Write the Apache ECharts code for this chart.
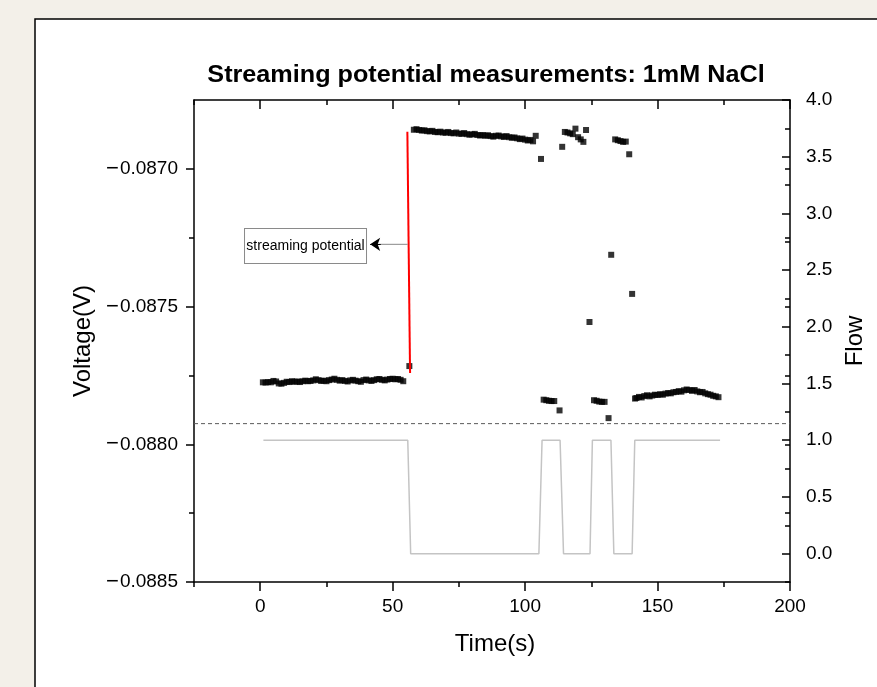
<!DOCTYPE html>
<html><head><meta charset="utf-8">
<script src="https://cdn.jsdelivr.net/npm/echarts@6/dist/echarts.min.js"></script>
<style>html,body{margin:0;padding:0;background:#f3f0e9;}#c{width:877px;height:687px;}</style>
</head><body><div id="c"></div>
<script>
const titleText = 'Streaming potential measurements: 1mM NaCl';
const xName = 'Time(s)';
const yLeftName = 'Voltage(V)';
const yRightName = 'Flow';
const annotationText = 'streaming potential';

const xMajorTicks = [0, 50, 100, 150, 200];
const xMinorTicks = [-25, 25, 75, 125, 175];
const vMajorTicks = [-0.0885, -0.0880, -0.0875, -0.0870];
const vMinorTicks = [-0.08825, -0.08775, -0.08725];
const flowMajorTicks = [0, 0.5, 1, 1.5, 2, 2.5, 3, 3.5, 4];
const flowMinorTicks = [0.25, 0.75, 1.25, 1.75, 2.25, 2.75, 3.25, 3.75];

// voltage (V) vs time (s), flow on
const voltageSeg1 = [[1,-0.087775],[2,-0.087776],[3,-0.087774],[4,-0.087775],[5,-0.087770],[6,-0.087772],[7,-0.087779],[8,-0.087780],[9,-0.087777],[10,-0.087773],
[11,-0.087774],[12,-0.087771],[13,-0.087773],[14,-0.087772],[15,-0.087774],[16,-0.087771],[17,-0.087769],[18,-0.087771],[19,-0.087770],[20,-0.087768],
[21,-0.087764],[22,-0.087767],[23,-0.087770],[24,-0.087769],[25,-0.087771],[26,-0.087767],[27,-0.087765],[28,-0.087762],[29,-0.087766],[30,-0.087769],
[31,-0.087767],[32,-0.087770],[33,-0.087772],[34,-0.087768],[35,-0.087766],[36,-0.087769],[37,-0.087771],[38,-0.087773],[39,-0.087767],[40,-0.087765],
[41,-0.087768],[42,-0.087770],[43,-0.087767],[44,-0.087764],[45,-0.087763],[46,-0.087766],[47,-0.087768],[48,-0.087765],[49,-0.087763],[50,-0.087762],
[51,-0.087764],[52,-0.087763],[53,-0.087766],[54,-0.087771],[56.3,-0.087716]];
// flow stopped
const voltageSeg2 = [[58,-0.086858],[59,-0.086856],[60,-0.086859],[61,-0.086861],[62,-0.086860],[63,-0.086863],[64,-0.086864],[65,-0.086862],[66,-0.086866],[67,-0.086867],
[68,-0.086865],[69,-0.086868],[70,-0.086869],[71,-0.086866],[72,-0.086870],[73,-0.086871],[74,-0.086868],[75,-0.086872],[76,-0.086873],[77,-0.086870],
[78,-0.086874],[79,-0.086876],[80,-0.086875],[81,-0.086873],[82,-0.086877],[83,-0.086879],[84,-0.086877],[85,-0.086880],[86,-0.086878],[87,-0.086881],
[88,-0.086883],[89,-0.086880],[90,-0.086879],[91,-0.086882],[92,-0.086884],[93,-0.086881],[94,-0.086885],[95,-0.086887],[96,-0.086886],[97,-0.086889],
[98,-0.086892],[99,-0.086890],[100,-0.086894],[101,-0.086897],[102,-0.086895],[103,-0.086900],[104,-0.086880]];
// switching period
const voltageSeg3 = [[106,-0.086964],[107,-0.087838],[108,-0.087840],[109,-0.087842],[110,-0.087843],[111,-0.087843],[113,-0.087877],
[114,-0.086920],[115,-0.086866],[116,-0.086868],[117,-0.086871],[118,-0.086874],[119,-0.086854],[120,-0.086885],[121,-0.086893],[122,-0.086902],[123,-0.086859],
[124.3,-0.087556],[126,-0.087840],[127,-0.087842],[128,-0.087845],[129,-0.087846],[130,-0.087846],[131.5,-0.087905],[132.5,-0.087312],
[134,-0.086893],[135,-0.086896],[136,-0.086899],[137,-0.086902],[138,-0.086901],[139.3,-0.086947],[140.4,-0.087454]];
// flow on again
const voltageSeg4 = [[141.5,-0.087834],[142,-0.087832],[143,-0.087828],[144,-0.087830],[145,-0.087825],[146,-0.087822],[147,-0.087826],[148,-0.087823],[149,-0.087820],[150,-0.087821],
[151,-0.087818],[152,-0.087820],[153,-0.087816],[154,-0.087814],[155,-0.087815],[156,-0.087811],[157,-0.087810],[158,-0.087807],[159,-0.087809],[160,-0.087804],
[161,-0.087801],[162,-0.087803],[163,-0.087806],[164,-0.087803],[165,-0.087808],[166,-0.087811],[167,-0.087810],[168,-0.087815],[169,-0.087818],[170,-0.087820],
[171,-0.087824],[172,-0.087826],[173,-0.087829]];

const flowPoints = [[1.2,1],[55.7,1],[56.8,0],[105.2,0],[106.4,1],[113.2,1],[114.5,0],[124.5,0],[125.4,1],[132.4,1],[133.5,0],[140.4,0],[141.4,1],[173.6,1]];
const streamLine = [[55.55,-0.086865],[56.57,-0.087741]];
const dashedLine = [[-25,-0.087925],[200,-0.087925]];
const arrowLine = [[55.7,-0.087274],[43.5,-0.087274]];
const arrowHead = [[45.5,-0.087274],[41.5,-0.087274]];
const boxCenter = [17.1, -0.087280];

const FONT = "'Liberation Sans', Arial, sans-serif";
const X_MIN = -25, X_MAX = 200, V_MIN = -0.0885, V_MAX = -0.08675, F_MIN = -0.25, F_MAX = 4;

const chart = echarts.init(document.getElementById('c'), null, {renderer: 'canvas'});

function xAx(pos, ticks, len, inside, showLine, labels) {
  return {
    type: 'value', position: pos, min: X_MIN, max: X_MAX,
    axisLine: {show: showLine, onZero: false, lineStyle: {color: '#000', width: 1.5}},
    axisTick: {show: true, inside: inside, length: len, customValues: ticks, lineStyle: {color: '#000', width: 1.5}},
    axisLabel: labels ? {show: true, customValues: ticks, fontSize: 19, color: '#000', fontFamily: FONT, margin: 15} : {show: false},
    splitLine: {show: false}
  };
}
function yAx(pos, min, max, ticks, len, inside, showLine, labelFmt, margin, rich) {
  const lab = labelFmt ? {show: true, customValues: ticks, formatter: labelFmt, fontSize: 19, color: '#000', fontFamily: FONT, margin: margin} : {show: false};
  if (rich) lab.rich = rich;
  return {
    type: 'value', position: pos, min: min, max: max,
    axisLine: {show: showLine, onZero: false, lineStyle: {color: '#000', width: 1.5}},
    axisTick: {show: true, inside: inside, length: len, customValues: ticks, lineStyle: {color: '#000', width: 1.5}},
    axisLabel: lab,
    splitLine: {show: false}
  };
}

const xBottom = xAx('bottom', xMajorTicks, 9, false, true, true);
xBottom.name = xName; xBottom.nameLocation = 'middle'; xBottom.nameGap = 50;
xBottom.nameTextStyle = {fontSize: 24, color: '#000', fontFamily: FONT, padding: [0, 0, 0, 6]};

const yLeft = yAx('left', V_MIN, V_MAX, vMajorTicks, 8, false, true,
  v => '{m|\u2212}' + Math.abs(v).toFixed(4), 16,
  {m: {fontSize: 22, fontFamily: FONT, color: '#000', padding: [0, 1, 0, 0]}});
yLeft.name = yLeftName; yLeft.nameLocation = 'middle'; yLeft.nameGap = 94; yLeft.nameRotate = 90;
yLeft.nameTextStyle = {fontSize: 24, color: '#000', fontFamily: FONT};

const yRight = yAx('right', F_MIN, F_MAX, flowMajorTicks, 8, true, true, v => v.toFixed(1), 16);
yRight.name = yRightName; yRight.nameLocation = 'middle'; yRight.nameGap = 52; yRight.nameRotate = 90;
yRight.nameTextStyle = {fontSize: 24, color: '#000', fontFamily: FONT};

const option = {
  backgroundColor: '#f3f0e9',
  animation: false,
  graphic: [
    {type: 'rect', z: -100, shape: {x: 35, y: 19, width: 900, height: 700}, style: {fill: '#ffffff', stroke: '#000', lineWidth: 1.5}},
    {type: 'text', z: 100, x: 486, y: 75, scaleX: 1.05, style: {x: 0, y: 0, text: titleText, textAlign: 'center', textVerticalAlign: 'middle', font: 'bold 24px ' + FONT, fill: '#000'}}
  ],
  grid: {left: 194, right: 87, top: 100, bottom: 105, containLabel: false},
  xAxis: [
    xBottom,
    xAx('bottom', xMinorTicks, 5, false, false, false),
    xAx('top', xMajorTicks, 9, true, true, false),
    xAx('top', xMinorTicks, 5, true, false, false)
  ],
  yAxis: [
    yLeft,
    yAx('left', V_MIN, V_MAX, vMinorTicks, 5, false, false, null),
    yRight,
    yAx('right', F_MIN, F_MAX, flowMinorTicks, 5, true, false, null),
    yAx('right', V_MIN, V_MAX, vMajorTicks.concat(vMinorTicks), 5, true, false, null)
  ],
  series: [
    {
      type: 'line', name: 'dashed', xAxisIndex: 0, yAxisIndex: 0, data: dashedLine,
      showSymbol: false, symbol: 'none', lineStyle: {color: '#5a5a5a', width: 1, type: [4, 3]}, z: 1, silent: true
    },
    {
      type: 'line', name: 'Flow', xAxisIndex: 0, yAxisIndex: 2, data: flowPoints,
      showSymbol: false, symbol: 'none', lineStyle: {color: '#c4c4c4', width: 1.5}, z: 1, silent: true
    },
    {
      type: 'scatter', name: 'Voltage', xAxisIndex: 0, yAxisIndex: 0,
      data: voltageSeg1.concat(voltageSeg2, voltageSeg3, voltageSeg4),
      symbol: 'rect', symbolSize: 6, itemStyle: {color: '#000'}, z: 3,
      markPoint: {
        silent: true, animation: false,
        data: [{
          coord: boxCenter, symbol: 'circle', symbolSize: 0,
          label: {show: true, position: 'inside', formatter: annotationText, color: '#000', fontSize: 14, fontFamily: FONT,
            backgroundColor: '#fff', borderColor: '#8a8a8a', borderWidth: 1, padding: [10, 1, 10, 1], width: 119, align: 'center'}
        }]
      }
    },
    {
      type: 'line', name: 'stream', xAxisIndex: 0, yAxisIndex: 0, data: streamLine,
      showSymbol: false, symbol: 'none', lineStyle: {color: '#ff0000', width: 2}, z: 4, silent: true
    },
    {
      type: 'line', name: 'arrow', xAxisIndex: 0, yAxisIndex: 0, data: arrowLine,
      showSymbol: false, symbol: 'none', lineStyle: {color: '#888', width: 1}, z: 4, silent: true,
      markLine: {
        silent: true, animation: false, symbol: ['none', 'arrow'], symbolSize: 10,
        label: {show: false},
        lineStyle: {type: 'solid', color: '#000', width: 1},
        data: [[{coord: arrowHead[0]}, {coord: arrowHead[1]}]]
      }
    }
  ]
};
chart.setOption(option);
</script></body></html>
